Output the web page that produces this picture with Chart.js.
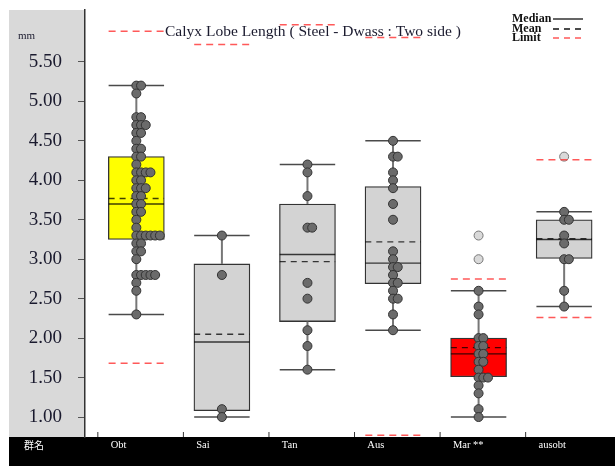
<!DOCTYPE html>
<html>
<head>
<meta charset="utf-8">
<script src="https://cdn.jsdelivr.net/npm/chart.js@4.4.0/dist/chart.umd.min.js"></script>
<style>
  html, body { margin: 0; padding: 0; background: #fff; }
  canvas { display: block; }
</style>
</head>
<body>
<canvas id="myChart" width="615" height="466"></canvas>
<script>
const groups = ["Obt", "Sai", "Tan", "Aus", "Mar **", "ausobt"];
const groupHeader = "群名";
const yTicks = [1.0, 1.5, 2.0, 2.5, 3.0, 3.5, 4.0, 4.5, 5.0, 5.5];

// box summary per group
const q1 = [3.25, 1.08, 2.21, 2.69, 1.51, 3.01];
const q3 = [4.30, 2.94, 3.70, 3.92, 2.00, 3.50];
const median = [3.70, 1.95, 3.06, 2.95, 1.80, 3.25];
const mean = [3.77, 2.05, 2.97, 3.22, 1.88, 3.26];
const whiskerLow = [2.3, 1.0, 1.6, 2.1, 1.0, 2.4];
const whiskerHigh = [5.2, 3.3, 4.2, 4.5, 2.6, 3.6];
const limitLow = [1.68, null, null, 0.77, null, 2.26];
const limitHigh = [5.89, 5.72, 5.97, 5.81, 2.75, 4.26];
const boxColors = ["#ffff00", "#d3d3d3", "#d3d3d3", "#d3d3d3", "#ff0000", "#d3d3d3"];

// measured lengths (mm)
const obtValues = [5.2, 5.2, 5.1, 4.8, 4.8, 4.7, 4.7, 4.7, 4.6, 4.6, 4.5, 4.4, 4.4, 4.3, 4.3, 4.2,
  4.1, 4.1, 4.1, 4.1, 4.0, 4.0, 3.9, 3.9, 3.9, 3.8, 3.8, 3.7, 3.7, 3.6, 3.6, 3.5, 3.4,
  3.3, 3.3, 3.3, 3.3, 3.3, 3.3, 3.2, 3.2, 3.1, 3.1, 3.0, 2.8, 2.8, 2.8, 2.8, 2.8, 2.7, 2.6, 2.3];
const saiValues = [3.3, 2.8, 1.1, 1.0];
const tanValues = [4.2, 4.1, 3.8, 3.4, 3.4, 2.7, 2.5, 2.1, 1.9, 1.6];
const ausValues = [4.5, 4.3, 4.3, 4.1, 4.0, 3.9, 3.7, 3.5, 3.1, 3.0, 2.9, 2.9, 2.8, 2.7, 2.7,
  2.6, 2.5, 2.5, 2.3, 2.1];
const marValues = [2.6, 2.4, 2.3, 2.0, 2.0, 1.9, 1.9, 1.8, 1.8, 1.7, 1.7, 1.6, 1.5, 1.5, 1.5,
  1.4, 1.3, 1.1, 1.0];
const ausobtValues = [3.6, 3.5, 3.5, 3.3, 3.2, 3.0, 3.0, 2.6, 2.4];
const outlierValues = [[], [], [], [], [3.3, 3.0], [4.3]];

const serif = "'Liberation Serif', 'Times New Roman', serif";
const halfBox = 0.324;

// repeated values step sideways so they stay visible
function spread(values, idx) {
  const seen = {};
  return values.map((v) => {
    const k = seen[v] || 0;
    seen[v] = k + 1;
    return { x: idx + 1 + k * 0.055, y: v };
  });
}

const dots = [obtValues, saiValues, tanValues, ausValues, marValues, ausobtValues]
  .map((vals, i) => spread(vals, i)).flat();
const outliers = outlierValues.map((vals, i) => spread(vals, i)).flat();

function hLine(ctx, x1, x2, y, color, width, dash) {
  ctx.save();
  ctx.strokeStyle = color;
  ctx.lineWidth = width;
  ctx.setLineDash(dash || []);
  ctx.beginPath();
  ctx.moveTo(x1, y);
  ctx.lineTo(x2, y);
  ctx.stroke();
  ctx.restore();
}

function vLine(ctx, x, y1, y2, color, width) {
  ctx.save();
  ctx.strokeStyle = color;
  ctx.lineWidth = width;
  ctx.beginPath();
  ctx.moveTo(x, y1);
  ctx.lineTo(x, y2);
  ctx.stroke();
  ctx.restore();
}

const boxParts = {
  id: "boxParts",
  beforeDraw(chart) {
    const ctx = chart.ctx;
    const a = chart.chartArea;
    ctx.save();
    ctx.fillStyle = "#d9d9d9";
    ctx.fillRect(9, a.top, a.left - 9, a.bottom - a.top);
    ctx.fillStyle = "#000";
    ctx.fillRect(9, a.bottom, chart.width - 9, chart.height - a.bottom);
    ctx.restore();
  },
  afterDatasetDraw(chart, args) {
    if (args.index !== 0) return;
    const ctx = chart.ctx;
    const xs = chart.scales.x;
    const ys = chart.scales.y;
    groups.forEach((g, i) => {
      const cx = xs.getPixelForValue(i + 1);
      const l = xs.getPixelForValue(i + 1 - halfBox);
      const r = xs.getPixelForValue(i + 1 + halfBox);
      vLine(ctx, cx, ys.getPixelForValue(whiskerHigh[i]), ys.getPixelForValue(q3[i]), "#777", 2);
      vLine(ctx, cx, ys.getPixelForValue(q1[i]), ys.getPixelForValue(whiskerLow[i]), "#777", 2);
      hLine(ctx, l, r, ys.getPixelForValue(whiskerHigh[i]), "#4a4a4a", 1.5);
      hLine(ctx, l, r, ys.getPixelForValue(whiskerLow[i]), "#4a4a4a", 1.5);
      hLine(ctx, l, r, ys.getPixelForValue(median[i]), "rgba(0,0,0,0.75)", 1.4);
      hLine(ctx, l, r, ys.getPixelForValue(mean[i]), "rgba(0,0,0,0.75)", 1.4, [6, 5]);
    });
  },
  afterDatasetsDraw(chart) {
    const ctx = chart.ctx;
    const xs = chart.scales.x;
    const ys = chart.scales.y;
    groups.forEach((g, i) => {
      const l = xs.getPixelForValue(i + 1 - halfBox);
      const r = xs.getPixelForValue(i + 1 + halfBox);
      [limitLow[i], limitHigh[i]].forEach((v) => {
        if (v === null) return;
        hLine(ctx, l, r, ys.getPixelForValue(v), "rgba(255,60,60,0.85)", 1.5, [7, 5]);
      });
    });
  },
  afterDraw(chart) {
    const ctx = chart.ctx;
    const xs = chart.scales.x;
    const a = chart.chartArea;
    ctx.save();
    // title
    ctx.fillStyle = "#1b1b2f";
    ctx.font = "15.5px " + serif;
    ctx.textAlign = "center";
    ctx.textBaseline = "alphabetic";
    ctx.fillText("Calyx Lobe Length ( Steel - Dwass : Two side )", 313, 36);
    // unit
    ctx.textAlign = "left";
    ctx.font = "11px " + serif;
    ctx.fillText("mm", 18, 39);
    // legend
    ctx.fillStyle = "#111";
    ctx.font = "bold 12px " + serif;
    ctx.fillText("Median", 512, 22);
    ctx.fillText("Mean", 512, 32);
    ctx.fillText("Limit", 512, 41);
    hLine(ctx, 553, 583, 19, "#111", 1.3);
    hLine(ctx, 553, 583, 29, "#111", 1.3, [6, 5]);
    hLine(ctx, 553, 583, 38, "rgba(255,60,60,0.85)", 1.3, [6, 5]);
    // group row along the bottom
    groups.forEach((g, i) => {
      vLine(ctx, xs.getPixelForValue(i + 1 - 0.45), a.bottom - 5, a.bottom, "#333", 1);
    });
    ctx.fillStyle = "#fff";
    ctx.textBaseline = "middle";
    ctx.font = "10.5px " + serif;
    groups.forEach((g, i) => {
      ctx.fillText(g, xs.getPixelForValue(i + 1 - 0.3), a.bottom + 8);
    });
    ctx.font = "10px 'Noto Sans CJK JP', 'Noto Sans CJK SC', sans-serif";
    ctx.fillText(groupHeader, 24, a.bottom + 8);
    ctx.restore();
  },
};

const data = {
  datasets: [
    {
      type: "bar",
      data: groups.map((g, i) => ({ x: i + 1, y: [q1[i], q3[i]] })),
      backgroundColor: boxColors,
      borderColor: "#333",
      borderWidth: 1.3,
      borderSkipped: false,
      barThickness: 56,
      order: 3,
    },
    {
      type: "scatter",
      data: dots,
      pointRadius: 4.5,
      backgroundColor: "#6b6b6b",
      borderColor: "#333",
      borderWidth: 1,
      order: 1,
    },
    {
      type: "scatter",
      data: outliers,
      pointRadius: 4.5,
      backgroundColor: "#d9d9d9",
      borderColor: "#777",
      borderWidth: 1,
      order: 2,
    },
  ],
};

const config = {
  type: "bar",
  data: data,
  options: {
    responsive: false,
    animation: false,
    devicePixelRatio: 1,
    layout: { padding: { left: 9, top: 10, right: 0, bottom: 29 } },
    plugins: { legend: { display: false }, tooltip: { enabled: false } },
    scales: {
      x: { type: "linear", min: 0.4, max: 6.53, offset: false, display: false },
      y: {
        type: "linear",
        min: 0.747,
        max: 6.158,
        beginAtZero: false,
        afterBuildTicks: (scale) => {
          scale.ticks = yTicks.map((v) => ({ value: v }));
        },
        afterFit: (scale) => {
          scale.width = 76;
          scale.paddingTop = 0;
          scale.paddingBottom = 0;
        },
        ticks: {
          padding: 16,
          color: "#1a1a2e",
          font: { family: serif, size: 19 },
          callback: (v) => Number(v).toFixed(2),
        },
        grid: { drawOnChartArea: false, tickLength: 7, tickColor: "#555" },
        border: { display: true, color: "#333", width: 1.5 },
      },
    },
  },
  plugins: [boxParts],
};

const myChart = new Chart(document.getElementById("myChart"), config);
</script>
</body>
</html>
